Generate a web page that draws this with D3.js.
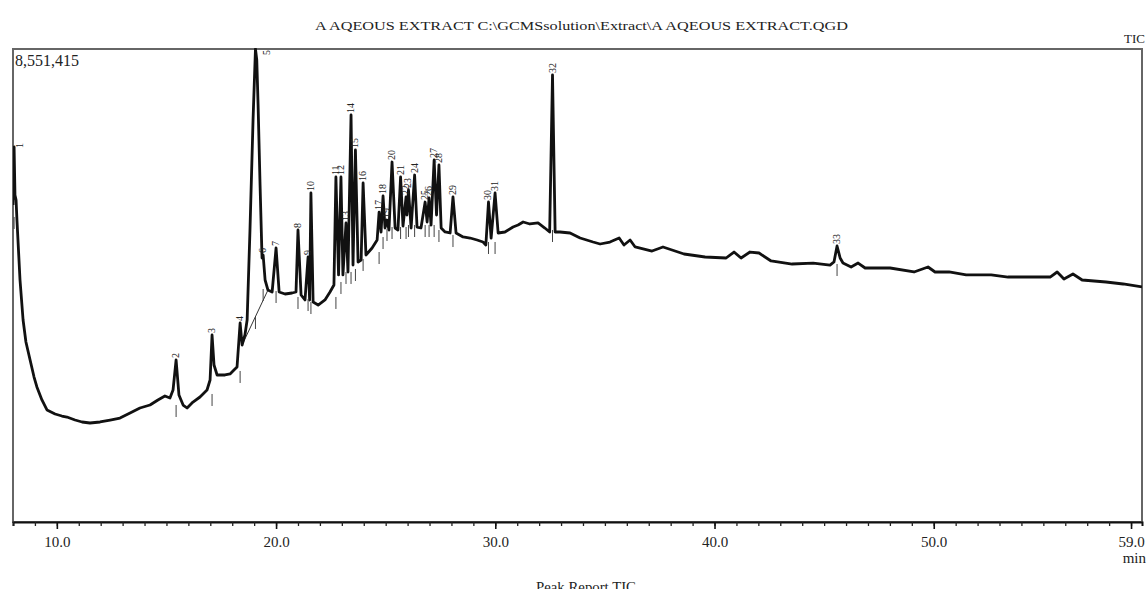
<!DOCTYPE html>
<html>
<head>
<meta charset="utf-8">
<script src="https://cdn.jsdelivr.net/npm/d3@7"></script>
<style>
  body { margin: 0; background: #fff; }
  text { font-family: "Liberation Serif", "Times New Roman", serif; fill: #222; }
</style>
</head>
<body>
<svg id="chart"></svg>
<script>
// retention time (min) and total ion count
const rt = [
  8.00, 8.05, 8.09, 8.14, 8.18, 8.32, 8.46, 8.59, 8.78, 8.96,
  9.09, 9.32, 9.55, 9.92, 10.23, 10.46, 10.83, 11.15, 11.51, 11.97,
  12.43, 12.88, 13.34, 13.79, 14.25, 14.61, 14.93, 15.16, 15.30, 15.44,
  15.57, 15.76, 15.94, 16.21, 16.53, 16.85, 16.99, 17.08, 17.17, 17.31,
  17.67, 17.90, 18.08, 18.22, 18.36, 18.45, 18.58, 18.68, 18.81, 18.95,
  19.06, 19.12, 19.18, 19.27, 19.36, 19.41, 19.50, 19.63, 19.82, 20.00,
  20.14, 20.41, 20.73, 20.91, 21.00, 21.14, 21.32, 21.46, 21.53, 21.59,
  21.69, 21.92, 22.23, 22.46, 22.64, 22.73, 22.85, 22.96, 23.05, 23.19,
  23.28, 23.42, 23.51, 23.62, 23.74, 23.88, 23.97, 24.10, 24.38, 24.61,
  24.70, 24.79, 24.88, 24.97, 25.06, 25.15, 25.29, 25.43, 25.56, 25.68,
  25.79, 25.93, 25.97, 26.04, 26.16, 26.32, 26.43, 26.61, 26.80, 26.89,
  26.98, 27.07, 27.21, 27.32, 27.43, 27.53, 27.71, 27.94, 28.07, 28.21,
  28.53, 28.85, 29.17, 29.44, 29.57, 29.69, 29.81, 29.99, 30.13, 30.44,
  30.81, 31.04, 31.27, 31.58, 31.95, 32.26, 32.48, 32.61, 32.73, 32.95,
  33.41, 33.87, 34.46, 34.78, 35.23, 35.65, 35.87, 36.15, 36.38, 37.15,
  37.65, 38.61, 39.57, 40.53, 40.89, 41.21, 41.62, 42.03, 42.58, 43.54,
  44.50, 45.27, 45.45, 45.59, 45.73, 45.86, 46.23, 46.55, 46.87, 48.01,
  49.10, 49.74, 50.06, 50.70, 51.48, 52.62, 53.39, 53.89, 55.31, 55.63,
  55.94, 56.35, 56.77, 57.86, 58.64, 59.50
];
const tic = [
  5731000, 6780000, 5912000, 5821000, 5460000, 4375000, 3652000, 3254000, 2929000, 2621000,
  2441000, 2206000, 2025000, 1953000, 1916000, 1898000, 1844000, 1808000, 1790000, 1808000,
  1844000, 1880000, 1971000, 2061000, 2115000, 2206000, 2278000, 2242000, 2386000, 2929000,
  2296000, 2115000, 2061000, 2169000, 2260000, 2386000, 2567000, 3381000, 2838000, 2658000,
  2658000, 2676000, 2748000, 2802000, 3598000, 3200000, 3381000, 3652000, 5279000, 7268000,
  8551415, 8352000, 7539000, 6093000, 4773000, 4827000, 4375000, 4194000, 4158000, 4954000,
  4158000, 4122000, 4140000, 4158000, 5279000, 4104000, 4014000, 4791000, 4014000, 5948000,
  3977000, 3923000, 4014000, 4158000, 4285000, 6237000, 4466000, 6237000, 4466000, 5406000,
  4520000, 7358000, 4646000, 6725000, 4701000, 4737000, 6129000, 4827000, 4954000, 5098000,
  5604000, 5243000, 5894000, 5315000, 5460000, 5279000, 6508000, 5315000, 5279000, 6237000,
  5351000, 5876000, 5550000, 6002000, 5315000, 6273000, 5333000, 5315000, 5785000, 5424000,
  5858000, 5369000, 6545000, 5550000, 6454000, 5315000, 5243000, 5225000, 5876000, 5225000,
  5153000, 5134000, 5098000, 5062000, 5008000, 5785000, 5134000, 5948000, 5225000, 5243000,
  5333000, 5369000, 5424000, 5388000, 5406000, 5315000, 5243000, 8081000, 5243000, 5243000,
  5225000, 5134000, 5062000, 5026000, 5062000, 5134000, 5008000, 5098000, 4972000, 4899000,
  4972000, 4845000, 4791000, 4773000, 4881000, 4773000, 4881000, 4863000, 4719000, 4664000,
  4682000, 4646000, 4701000, 4990000, 4773000, 4682000, 4610000, 4682000, 4592000, 4592000,
  4520000, 4610000, 4520000, 4520000, 4466000, 4466000, 4429000, 4429000, 4429000, 4520000,
  4393000, 4484000, 4375000, 4339000, 4303000, 4249000
];

// numbered peaks
const peakNo = [1, 2, 3, 4, 5, 6, 7, 8, 9, 10, 11, 12, 13, 14, 15, 16, 17,
  18, 19, 20, 21, 22, 23, 24, 25, 26, 27, 28, 29, 30, 31, 32, 33];
const peakRt = [8.05, 15.44, 17.08, 18.36, 19.06, 19.41, 20.00, 21.00, 21.46,
  21.59, 22.73, 22.96, 23.19, 23.42, 23.62, 23.97, 24.70, 24.88, 25.06, 25.29,
  25.68, 25.93, 26.04, 26.32, 26.80, 26.98, 27.21, 27.43, 28.07, 29.69, 29.99,
  32.61, 45.59];

const majorTicks = [10, 20, 30, 40, 50, 59];
const yMax = 8551415;
const title = "A AQEOUS EXTRACT C:\\GCMSsolution\\Extract\\A AQEOUS EXTRACT.QGD";

const W = 1147, H = 589;
const x0 = 13, x1 = 1142, y0 = 49, y1 = 522;

const svg = d3.select("#chart").attr("width", W).attr("height", H);

const x = d3.scaleLinear([8, 59.5], [x0, x1]);
const y = d3.scaleLinear([0, yMax], [y1, y0]);

svg.append("clipPath").attr("id", "clip")
  .append("rect").attr("x", x0).attr("y", y0 - 1)
  .attr("width", x1 - x0).attr("height", y1 - y0 + 1);

// titles
svg.append("text").attr("x", 315).attr("y", 30)
  .attr("font-size", 13).attr("textLength", 533).attr("lengthAdjust", "spacingAndGlyphs")
  .text(title);
svg.append("text").attr("x", 1145).attr("y", 43).attr("text-anchor", "end")
  .attr("font-size", 13).text("TIC");
svg.append("text").attr("x", 15).attr("y", 66).attr("font-size", 16).text("8,551,415");

// frame
svg.append("rect").attr("x", x0).attr("y", y0)
  .attr("width", x1 - x0).attr("height", y1 - y0)
  .attr("fill", "none").attr("stroke", "#666").attr("stroke-width", 2);

// x axis: minor ticks each minute, labelled major ticks
const minor = svg.append("g").attr("transform", "translate(0," + y1 + ")")
  .call(d3.axisBottom(x).tickValues(d3.range(8, 60)).tickSize(4).tickFormat(""));
minor.select(".domain").attr("stroke", "#111").attr("stroke-width", 2);
minor.selectAll(".tick line").attr("stroke", "#222").attr("stroke-width", 1.3);

const major = svg.append("g").attr("transform", "translate(0," + y1 + ")")
  .call(d3.axisBottom(x).tickValues(majorTicks).tickSize(7).tickPadding(7)
    .tickFormat(d3.format(".1f")));
major.select(".domain").remove();
major.selectAll(".tick line").attr("stroke", "#111").attr("stroke-width", 1.6);
major.selectAll(".tick text").attr("font-size", 15)
  .attr("font-family", "Liberation Serif, serif").attr("fill", "#222");

svg.append("text").attr("x", 1146).attr("y", 563).attr("text-anchor", "end")
  .attr("font-size", 15).text("min");
svg.append("text").attr("x", 536).attr("y", 592).attr("font-size", 14)
  .attr("textLength", 100).attr("lengthAdjust", "spacingAndGlyphs").text("Peak Report TIC");

// chromatogram
const pts = rt.map((t, i) => [t, tic[i]]);
const plot = svg.append("g").attr("clip-path", "url(#clip)");

// integration baseline drawn under peak 5
const skimA = rt.indexOf(18.45), skimB = rt.indexOf(19.63);
plot.append("line")
  .attr("x1", x(rt[skimA])).attr("y1", y(tic[skimA]))
  .attr("x2", x(rt[skimB])).attr("y2", y(tic[skimB]))
  .attr("stroke", "#333").attr("stroke-width", 1);

plot.append("path").datum(pts)
  .attr("fill", "none").attr("stroke", "#111").attr("stroke-width", 2.8)
  .attr("stroke-linejoin", "round")
  .attr("d", d3.line().x(d => x(d[0])).y(d => y(d[1])));

// peak markers and numbers
peakNo.forEach((n, k) => {
  const j = rt.indexOf(peakRt[k]);
  const px = x(rt[j]), py = y(tic[j]);
  const lo = d3.max(tic.slice(Math.max(0, j - 3), j + 4).map(v => y(v)));
  svg.append("line").attr("x1", px).attr("x2", px)
    .attr("y1", lo - 3).attr("y2", lo + 9)
    .attr("stroke", "#444").attr("stroke-width", 1);

  let lx = px + 3, ly = py - 2, anchor = "start";
  if (py < y0 + 5) { lx = px + 15; ly = y0 + 1; anchor = "end"; }
  else if (px < x0 + 5) { lx = px + 9; ly = py + 1; }
  svg.append("text")
    .attr("transform", "translate(" + lx + "," + ly + ") rotate(-90)")
    .attr("text-anchor", anchor)
    .attr("font-size", 10).attr("fill", "#333")
    .text(n);
});
</script>
</body>
</html>
